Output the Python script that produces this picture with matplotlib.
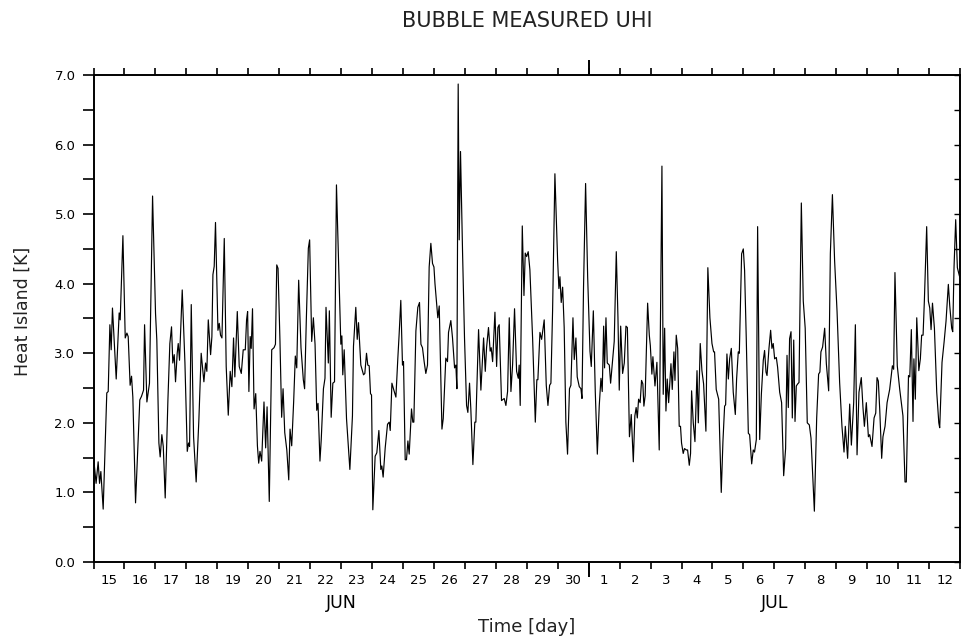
import numpy as np
import matplotlib
matplotlib.use("Agg")
import matplotlib.pyplot as plt
import matplotlib.transforms as mtransforms

# ---- data: hours since 15 June 00:00, heat island [K] ----
hours = [
    0, 2, 3.6, 4.7, 5.7, 7.5, 10.3, 11.4, 12.7, 13.7, 14.7, 17.6, 19.9, 20.7, 22.8,
    24.6, 25.9, 26.9, 28.4, 29.5, 30.5, 32.6, 35.9, 37.2, 38.8, 39.6, 41.4, 43.4, 45.8,
    48.1, 49.1, 50.7, 51.7, 53.0, 54.1, 55.6, 57.7, 59.2, 60.5, 61.5, 62.6, 63.6, 64.9,
    65.7, 66.7, 68.8, 70.9, 72.7, 73.7, 74.5, 75.8, 77.6, 79.6, 81.7, 83.5, 85.6, 86.9,
    87.9, 89.0, 90.8, 91.8, 92.6, 93.6, 94.6, 96.5, 97.5, 98.5, 99.6, 101.4, 102.9,
    104.5, 106.0, 107.3, 108.6, 109.6, 111.5, 113.0, 114.6, 116.1, 117.7, 118.7, 119.5,
    120.5, 121.5, 122.3, 123.3,
    124.5, 125.8, 127.1, 128.1, 129.1, 130.4, 132.2, 133.5, 134.6, 136.3, 138.2, 140.0,
    141.1, 142.1, 143.1, 144.6, 145.9, 147.0, 148.3, 149.9, 151.4, 152.4, 153.7, 155.2,
    156.5, 157.6, 159.1, 160.9, 162.7, 163.7, 165.0, 166.6, 167.6, 169.2, 170.5, 171.8,
    173.1, 174.1, 175.6, 176.6, 178.3, 179.5, 180.3, 182.1, 182.9,
    184.3, 185.6, 186.9, 188.4, 191.8, 192.6, 193.3, 194.4, 196.2, 198.8, 200.8, 201.6,
    203.4, 204.5, 205.5, 207.3, 209.4, 210.4, 211.7, 212.7, 213.8, 214.8, 215.6, 216.6,
    218.4, 219.7, 221.3, 222.8, 223.6, 224.6, 226.2, 228.0, 229.3, 230.1, 231.4, 232.9,
    234.5, 236.0, 237.0, 238.3, 239.6, 240.4, 241.7, 242.7, 243.8, 244.8, 246.6, 247.6,
    248.4, 250.0, 251.5, 252.8, 253.9, 255.1, 256.4, 257.7, 259.0, 260.3, 261.6, 262.9,
    264.0, 264.8, 266.0, 267.0, 268.1, 270.2, 271.2, 273.2, 274.5, 275.3, 277.1, 278.4,
    280.0, 281.0, 281.8, 282.8, 283.6, 284.6, 286.2, 287.7, 289.3, 290.3, 291.6, 292.6,
    294.2, 295.7, 296.5, 298.6, 300.4, 302.5, 303.8, 304.8, 306.3, 307.6, 308.4, 309.5,
    311.3, 312.6, 313.6, 314.6, 316.4, 318.5, 319.8, 321.1, 322.4, 323.7, 325.0, 326.5,
    328.1, 329.4, 330.1, 330.9, 332.5, 333.8, 334.8, 335.9, 337.1, 338.4, 340.5, 342.6,
    343.8, 344.6, 346.2, 347.5, 349.5, 351.1, 352.4, 353.7, 354.7, 356.0, 357.8, 359.9,
    360.9, 361.7, 362.7, 363.8, 365.0, 366.3, 367.6, 369.1, 370.2, 371.8, 372.8, 374.1,
    375.1, 376.7, 378.0, 378.8, 380.0, 381.6, 383.2, 385.0, 386.0, 387.6, 389.1, 390.7,
    392.2, 393.5, 394.5, 395.6, 396.3, 397.4, 398.4, 400.0, 401.0, 402.6, 403.8, 405.4,
    406.7, 407.7, 408.8, 410.3, 411.6, 412.9, 414.0, 415.6,
    417.0, 418.6, 419.8, 420.8, 421.7, 422.7, 423.9, 425.0, 426.0, 426.8, 427.8, 429.7,
    431.0, 431.8, 433.0, 433.8, 435.4, 436.9, 438.7, 440.8, 441.8, 442.9, 443.9, 444.9,
    446.0, 447.8, 448.8, 450.1, 450.9, 451.9, 453.0, 454.2, 455.2, 456.0, 457.3, 458.3,
    459.7, 460.7, 462.0, 463.0, 463.8, 465.1, 466.4, 468.0, 469.0, 470.5, 471.8, 473.1,
    474.9, 476.4, 478.0, 479.6, 480.9, 481.6, 482.9, 484.8, 486.8, 488.1, 489.4, 490.2,
    491.2, 492.3, 493.3, 494.6, 496.1, 497.7, 498.7, 500.0, 500.8, 502.6, 503.9, 504.9,
    506.2, 507.8, 508.8, 510.4, 511.6, 512.6, 514.0, 515.0, 516.6, 517.9, 519.4, 520.4,
    521.5, 522.3, 523.8, 525.1, 526.1, 527.1, 528.2, 529.5, 530.5, 532.1, 533.6, 535.2,
    536.7, 537.8, 538.8, 539.8, 540.9, 541.9, 543.0, 544.0, 545.0, 546.1, 547.1, 548.9,
    550.4, 551.9, 553.5, 555.1, 556.4, 559.0, 560.8, 562.3, 563.3, 564.1, 565.4, 567.0,
    568.3, 570.1, 571.4, 573.0, 574.7, 576.6, 578.6, 580.4, 582.0, 583.0, 584.8, 586.4,
    587.7, 589.5, 590.8, 592.1, 593.6, 595.4, 596.7, 597.8, 599.3, 600.9, 601.9, 603.7,
    605.3, 606.6, 607.6, 608.6, 609.7, 611.2, 612.2, 613.8, 615.4, 617.4, 619.5, 620.5,
    621.5, 623.3, 625.2, 627.7, 629.3, 630.3, 632.0, 633.0, 634.2, 635.5, 636.2, 637.3,
    638.4, 639.4, 640.0, 641.2, 642.2, 643.3, 644.3, 646.1, 647.4, 648.5, 649.5, 650.6,
    652.1, 653.9, 655.5, 656.2, 658.0, 659.6, 661.1, 662.9, 664.0, 665.5, 666.3, 667.3,
    668.6, 669.9, 671.5, 672.0,
]
uhi = [
    1.51, 1.13, 1.44, 1.13, 1.30, 0.76, 2.43, 2.45, 3.41, 3.05, 3.65, 2.63, 3.58, 3.48, 4.69,
    3.22, 3.29, 3.24, 2.54, 2.67, 2.37, 0.85, 2.33, 2.38, 2.47, 3.41, 2.30, 2.57, 5.26,
    3.57, 3.19, 1.71, 1.51, 1.83, 1.66, 0.92, 2.33, 3.14, 3.38, 2.86, 2.98, 2.59, 3.00,
    3.14, 2.90, 3.91, 2.86, 1.59, 1.71, 1.66, 3.70, 1.80, 1.15, 2.04, 3.00, 2.59, 2.86,
    2.74, 3.48, 2.98, 3.24, 4.13, 4.25, 4.88, 3.33, 3.43, 3.26, 3.22, 4.65, 2.81,
    2.11, 2.74, 2.52, 3.22, 2.66, 3.60, 2.81, 2.71, 3.05, 3.05, 3.48, 3.60,
    2.45, 3.24, 3.07, 3.64,
    2.20, 2.42, 1.67, 1.42, 1.59, 1.45, 2.30, 1.64, 2.23, 0.87, 3.05, 3.08,
    3.13, 4.27, 4.22, 3.17, 2.08, 2.49, 1.86, 1.61, 1.18, 1.91, 1.67, 2.30,
    2.96, 2.79, 4.05, 3.08, 2.62, 2.49, 3.46, 4.51, 4.63, 3.17, 3.51, 3.13,
    2.18, 2.28, 1.45, 1.76, 2.49, 2.64, 3.66, 2.86, 3.61,
    2.08, 2.57, 2.59, 5.42, 3.13, 3.25, 2.69, 3.05, 2.06, 1.33, 2.10, 3.10,
    3.66, 3.20, 3.44, 2.83, 2.69, 2.71, 3.00, 2.83, 2.82, 2.42, 2.40, 0.75,
    1.52, 1.57, 1.89, 1.33, 1.38, 1.22, 1.64, 1.98, 2.01, 1.89, 2.57, 2.47,
    2.37, 2.93, 3.27, 3.76, 2.83, 2.88, 1.47, 1.47, 1.74, 1.55, 2.20, 2.01,
    2.01, 3.32, 3.66, 3.73, 3.13, 3.08, 2.88, 2.71, 2.83, 4.24, 4.58, 4.29,
    4.24, 4.00, 3.73, 3.51, 3.68, 1.91, 2.06, 2.93, 2.88, 3.30, 3.47, 3.22,
    2.79, 2.83, 2.49, 6.87, 4.63, 5.90, 4.44, 3.22, 2.25, 2.15, 2.57, 2.20,
    1.40, 2.01, 2.01, 3.34, 2.47, 3.22, 2.74, 3.08, 3.37, 3.03, 3.08, 2.88,
    3.59, 2.81, 3.37, 3.41, 2.32, 2.35, 2.25, 2.45, 3.51, 2.45, 2.84, 3.64,
    2.74, 2.64, 2.83, 2.25, 4.83, 3.83, 4.44, 4.39, 4.46, 4.20, 3.22, 2.01,
    2.62, 2.62, 3.30, 3.20, 3.48, 2.54, 2.25, 2.54, 2.57, 3.61, 5.58, 4.34,
    3.93, 4.10, 3.73, 3.95, 3.37, 2.01, 1.55, 2.49, 2.54, 3.51, 2.91, 3.22,
    2.66, 2.52, 2.49, 2.35, 3.95, 5.44, 4.10, 3.03, 2.81, 3.61, 2.45, 1.55,
    2.25, 2.64, 2.45, 3.39, 2.79, 3.51, 2.86, 2.83, 2.57, 2.91, 3.17, 4.46,
    3.51, 2.47, 3.39, 2.71, 2.86, 3.39, 3.37, 1.80,
    2.12, 1.44, 2.10, 2.22, 2.07, 2.34, 2.29, 2.61, 2.56, 2.24, 2.39, 3.72,
    3.26, 3.11, 2.70, 2.95, 2.53, 2.87, 1.61, 5.69, 2.41, 3.36, 2.17, 2.63,
    2.29, 2.85, 2.48, 3.02, 2.61, 3.26, 3.07, 1.95, 1.95, 1.71, 1.56, 1.63,
    1.61, 1.61, 1.39, 1.56, 2.46, 2.00, 1.73, 2.75, 2.00, 3.14, 2.75, 2.56,
    1.88, 4.23, 3.51, 3.14, 3.02, 3.02, 2.48, 2.34, 1.00, 1.73, 2.24, 2.26,
    2.99, 2.63, 2.92, 3.07, 2.44, 2.12, 2.63, 3.02, 3.00, 4.43, 4.50, 4.19,
    3.21, 1.85, 1.83, 1.41, 1.61, 1.58, 1.76, 4.82, 1.76, 2.41, 2.90, 3.04,
    2.73, 2.68, 3.07, 3.33, 3.07, 3.14, 2.92, 2.94, 2.80, 2.44, 2.29, 1.24,
    1.63, 2.97, 2.22, 3.21, 3.31, 2.07, 3.19, 2.02, 2.53, 2.56, 2.58, 5.16,
    3.75, 3.36, 2.00, 1.97, 1.78, 0.73, 2.07, 2.70, 2.73, 3.02, 3.09, 3.36,
    2.85, 2.46, 4.43, 5.28, 4.33, 3.60, 2.58, 1.95, 1.58, 1.95, 1.49, 2.27,
    1.68, 2.29, 3.41, 1.54, 2.44, 2.65, 2.22, 1.95, 2.29, 1.80, 1.83, 1.66,
    2.07, 2.14, 2.65, 2.60, 2.19, 1.49, 1.80, 1.95, 2.29, 2.48, 2.82, 2.77,
    4.16, 2.82, 2.48, 2.10, 1.15, 1.15, 2.68, 2.66, 3.34, 2.02, 2.92, 2.34,
    3.51, 3.07, 2.75, 2.92, 3.26, 3.26, 3.75, 4.82, 3.75, 3.65, 3.34, 3.72,
    3.36, 2.44, 2.00, 1.93, 2.87, 3.16, 3.46, 3.99, 3.68, 3.36, 3.31, 4.23,
    4.92, 4.23, 4.11, 4.09,
]

day_labels = [str(d) for d in range(15, 31)] + [str(d) for d in range(1, 13)]
month_labels = ["JUN", "JUL"]
month_span_days = [16, 12]          # days of each month shown on the axis
y_ticks = [0, 1, 2, 3, 4, 5, 6, 7]

title = "BUBBLE MEASURED UHI"
xlabel = "Time [day]"
ylabel = "Heat Island [K]"

# ---- figure ----
plt.rcParams["font.family"] = ["DejaVu Sans"]
fig = plt.figure(figsize=(9.62, 6.43), dpi=100)
ax = fig.add_axes([0.0972, 0.1260, 0.9008, 0.7574])

ax.plot(hours, uhi, color="black", lw=0.85)

ndays = len(day_labels)
ax.set_xlim(0, ndays * 24)
ax.set_ylim(0, 7)

for s in ax.spines.values():
    s.set_linewidth(1.4)

# x: day boundaries (ticks) and day labels in the middle of each day
ax.set_xticks(np.arange(0, ndays * 24 + 1, 24))
ax.set_xticks(np.arange(12, ndays * 24, 24), minor=True)
ax.set_xticklabels(day_labels, minor=True)
ax.tick_params(axis="x", which="major", direction="out", length=5, width=1.2,
               top=True, labelbottom=False)
ax.tick_params(axis="x", which="minor", length=0, pad=9, labelsize=9.5)

# month boundary, taller tick
month_start = month_span_days[0] * 24
for side in ("bottom", "top"):
    sec = ax.secondary_xaxis(side)
    sec.set_xticks([month_start])
    sec.tick_params(direction="out", length=11, width=1.4,
                    labelbottom=False, labeltop=False)
    for s in sec.spines.values():
        s.set_visible(False)

# y ticks
ax.set_yticks(y_ticks)
ax.set_yticklabels([f"{v:.1f}" for v in y_ticks])
ax.set_yticks(np.arange(0.5, 7, 1.0), minor=True)
ax.tick_params(axis="y", which="both", direction="out", length=8, width=1.2,
               pad=5, labelsize=9.5)
secy = ax.secondary_yaxis("right")
secy.set_yticks(np.arange(0, 7.01, 0.5))
secy.tick_params(direction="in", length=4, width=1.0, labelright=False)
for s in secy.spines.values():
    s.set_visible(False)

# month labels centred under each month's span
trans = mtransforms.blended_transform_factory(ax.transData, ax.transAxes)
start = 0
for lab, nd in zip(month_labels, month_span_days):
    ax.text((start + nd / 2) * 24, -0.085, lab, transform=trans,
            ha="center", va="center", fontsize=12.5)
    start += nd

xc = 0.0972 + 0.9008 / 2
fig.text(xc, 0.025, xlabel, ha="center", va="center", fontsize=13, color="#222222")
fig.text(0.024, 0.516, ylabel, ha="center", va="center", rotation=90,
         fontsize=12.5, color="#222222")
fig.text(xc, 0.967, title, ha="center", va="center", fontsize=15, color="#222222")

fig.savefig("out.png", dpi=100)
